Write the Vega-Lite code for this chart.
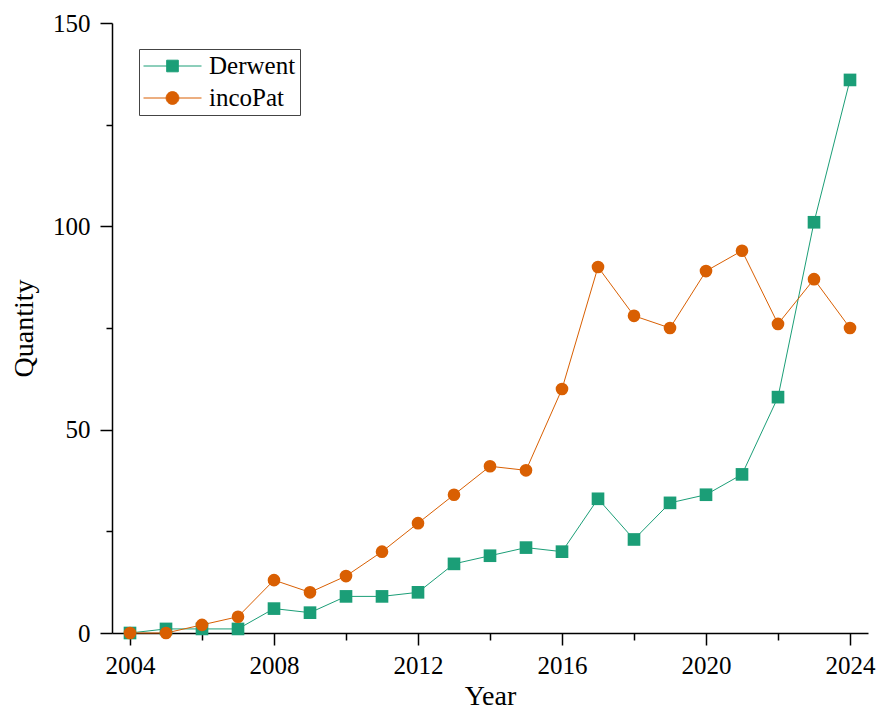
{
  "$schema": "https://vega.github.io/schema/vega-lite/v6.json",
  "width": 756,
  "height": 610,
  "autosize": {"type": "none"},
  "padding": {"left": 112, "top": 23, "right": 9, "bottom": 76},
  "background": "white",
  "config": {
    "view": {"stroke": null},
    "font": "Liberation Serif",
    "axis": {"grid": false, "domainColor": "black", "domainWidth": 1.5, "tickColor": "black", "tickWidth": 1.5, "labelColor": "black", "titleColor": "black", "labelFont": "Liberation Serif", "titleFont": "Liberation Serif", "labelFontSize": 25, "titleFontSize": 28, "titleFontWeight": "normal"}
  },
  "data": {"values": [
    {"Year": 2004, "Source": "Derwent", "Quantity": 0},
    {"Year": 2005, "Source": "Derwent", "Quantity": 1},
    {"Year": 2006, "Source": "Derwent", "Quantity": 1},
    {"Year": 2007, "Source": "Derwent", "Quantity": 1},
    {"Year": 2008, "Source": "Derwent", "Quantity": 6},
    {"Year": 2009, "Source": "Derwent", "Quantity": 5},
    {"Year": 2010, "Source": "Derwent", "Quantity": 9},
    {"Year": 2011, "Source": "Derwent", "Quantity": 9},
    {"Year": 2012, "Source": "Derwent", "Quantity": 10},
    {"Year": 2013, "Source": "Derwent", "Quantity": 17},
    {"Year": 2014, "Source": "Derwent", "Quantity": 19},
    {"Year": 2015, "Source": "Derwent", "Quantity": 21},
    {"Year": 2016, "Source": "Derwent", "Quantity": 20},
    {"Year": 2017, "Source": "Derwent", "Quantity": 33},
    {"Year": 2018, "Source": "Derwent", "Quantity": 23},
    {"Year": 2019, "Source": "Derwent", "Quantity": 32},
    {"Year": 2020, "Source": "Derwent", "Quantity": 34},
    {"Year": 2021, "Source": "Derwent", "Quantity": 39},
    {"Year": 2022, "Source": "Derwent", "Quantity": 58},
    {"Year": 2023, "Source": "Derwent", "Quantity": 101},
    {"Year": 2024, "Source": "Derwent", "Quantity": 136},
    {"Year": 2004, "Source": "incoPat", "Quantity": 0},
    {"Year": 2005, "Source": "incoPat", "Quantity": 0},
    {"Year": 2006, "Source": "incoPat", "Quantity": 2},
    {"Year": 2007, "Source": "incoPat", "Quantity": 4},
    {"Year": 2008, "Source": "incoPat", "Quantity": 13},
    {"Year": 2009, "Source": "incoPat", "Quantity": 10},
    {"Year": 2010, "Source": "incoPat", "Quantity": 14},
    {"Year": 2011, "Source": "incoPat", "Quantity": 20},
    {"Year": 2012, "Source": "incoPat", "Quantity": 27},
    {"Year": 2013, "Source": "incoPat", "Quantity": 34},
    {"Year": 2014, "Source": "incoPat", "Quantity": 41},
    {"Year": 2015, "Source": "incoPat", "Quantity": 40},
    {"Year": 2016, "Source": "incoPat", "Quantity": 60},
    {"Year": 2017, "Source": "incoPat", "Quantity": 90},
    {"Year": 2018, "Source": "incoPat", "Quantity": 78},
    {"Year": 2019, "Source": "incoPat", "Quantity": 75},
    {"Year": 2020, "Source": "incoPat", "Quantity": 89},
    {"Year": 2021, "Source": "incoPat", "Quantity": 94},
    {"Year": 2022, "Source": "incoPat", "Quantity": 76},
    {"Year": 2023, "Source": "incoPat", "Quantity": 87},
    {"Year": 2024, "Source": "incoPat", "Quantity": 75}
  ]},
  "encoding": {
    "x": {"field": "Year", "type": "quantitative", "title": "Year",
      "scale": {"domain": [2003.5, 2024.5], "nice": false, "zero": false},
      "axis": {"values": [2004, 2006, 2008, 2010, 2012, 2014, 2016, 2018, 2020, 2022, 2024],
        "format": "d", "labelExpr": "datum.value % 4 === 0 ? datum.label : ''",
        "tickSize": {"condition": {"test": "datum.value % 4 === 0", "value": 12}, "value": 7},
        "labelPadding": 8, "titlePadding": 4, "labelFlush": false, "labelOverlap": false}},
    "y": {"field": "Quantity", "type": "quantitative", "title": "Quantity",
      "scale": {"domain": [0, 150], "nice": false},
      "axis": {"values": [0, 25, 50, 75, 100, 125, 150],
        "labelExpr": "datum.value % 50 === 0 ? datum.label : ''",
        "tickSize": {"condition": {"test": "datum.value % 50 === 0", "value": 12}, "value": 6},
        "labelPadding": 10, "titlePadding": 14, "labelFlush": false, "labelOverlap": false}},
    "color": {"field": "Source", "type": "nominal",
      "scale": {"domain": ["Derwent", "incoPat"], "range": ["#1b9e77", "#d95f02"]},
      "legend": {"title": null, "orient": "none", "legendX": 27, "legendY": 26,
        "padding": 4, "strokeColor": "#444", "fillColor": "white",
        "labelFont": "Liberation Serif", "labelFontSize": 25, "labelColor": "black",
        "symbolSize": 3364, "clipHeight": 26, "rowPadding": 6, "labelOffset": 7, "symbolOffset": 0,
        "encode": {"symbols": {"update": {
          "shape": {"signal": "datum.value === 'Derwent' ? 'M-1,0H1M-0.2,-0.2H0.2V0.2H-0.2Z' : 'M-1,0H1M0.22,0A0.22,0.22,0,1,1,-0.22,0A0.22,0.22,0,1,1,0.22,0Z'"},
          "fill": {"signal": "datum.value === 'Derwent' ? '#1b9e77' : '#d95f02'"},
          "stroke": {"signal": "datum.value === 'Derwent' ? '#1b9e77' : '#d95f02'"},
          "strokeWidth": {"value": 1},
          "opacity": {"value": 1}
        }}}}}
  },
  "layer": [
    {"mark": {"type": "line", "strokeWidth": 1}},
    {"transform": [{"filter": "datum.Source === 'Derwent'"}],
      "mark": {"type": "point", "filled": true, "opacity": 1, "size": 160, "shape": "square"}},
    {"transform": [{"filter": "datum.Source === 'incoPat'"}],
      "mark": {"type": "point", "filled": true, "opacity": 1, "size": 160, "shape": "circle"}}
  ]
}
